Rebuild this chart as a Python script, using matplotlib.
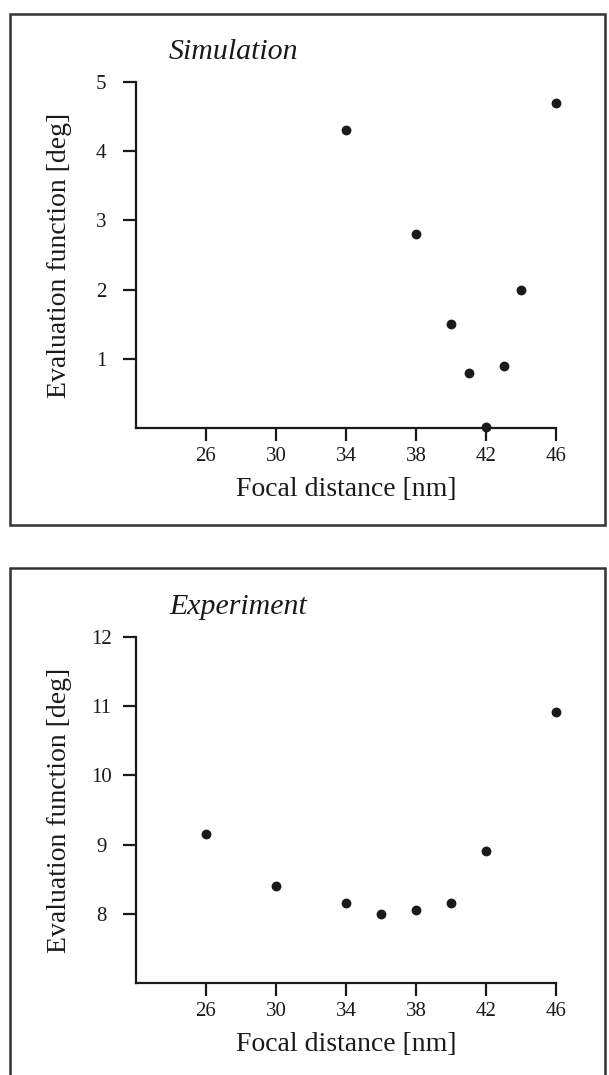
import matplotlib
matplotlib.use("Agg")
import matplotlib.pyplot as plt
from matplotlib.patches import Rectangle

# ---- data ----
sim_focal = [34, 38, 40, 41, 42, 43, 44, 46]
sim_eval = [4.3, 2.8, 1.5, 0.8, 0.02, 0.9, 2.0, 4.7]

exp_focal = [26, 30, 34, 36, 38, 40, 42, 46]
exp_eval = [9.15, 8.40, 8.15, 8.0, 8.05, 8.15, 8.91, 10.91]

x_ticks = [26, 30, 34, 38, 42, 46]
sim_yticks = [1, 2, 3, 4, 5]
exp_yticks = [8, 9, 10, 11, 12]

xlabel = "Focal distance [nm]"
ylabel = "Evaluation function [deg]"

plt.rcParams['font.family'] = ['Liberation Serif', 'DejaVu Serif']

W, H = 609, 1075
fig = plt.figure(figsize=(W / 100, H / 100), dpi=100)
fig.patch.set_facecolor('white')

ink = '#1a1a1a'


def fx(px):
    return px / W


def fy(py):
    return 1 - py / H


def panel(top_px, title, xs, ys, yticks, ylim):
    ax_h = 346
    ax = fig.add_axes([fx(136), fy(top_px + ax_h), (556 - 136) / W, ax_h / H])
    ax.scatter(xs, ys, s=50, color=ink, clip_on=False, zorder=3, linewidths=0)
    ax.set_xlim(22, 46)
    ax.set_ylim(*ylim)
    ax.set_xticks(x_ticks)
    ax.set_yticks(yticks)
    for s in ['top', 'right']:
        ax.spines[s].set_visible(False)
    for s in ['left', 'bottom']:
        ax.spines[s].set_linewidth(1.6)
        ax.spines[s].set_color(ink)
    ax.tick_params(axis='both', direction='out', length=9.5, width=1.6,
                   color=ink, labelsize=15, labelcolor=ink)
    ax.tick_params(axis='y', pad=15.5)
    ax.tick_params(axis='x', pad=4.0)
    for lab in ax.get_yticklabels():
        lab.set_horizontalalignment('center')
    ax.set_xlabel(xlabel, fontsize=20, color=ink)
    ax.xaxis.set_label_coords(0.5, -49 / ax_h)
    ax.set_ylabel(ylabel, fontsize=20, color=ink, va='center')
    ax.yaxis.set_label_coords(-76 / 420, 0.5)
    fig.text(fx(169), fy(top_px - 23), title, fontsize=21.5, style='italic',
             color=ink, va='baseline', ha='left')
    return ax


panel(82, "Simulation", sim_focal, sim_eval, sim_yticks, (0, 5))
panel(637, "Experiment", exp_focal, exp_eval, exp_yticks, (7, 12))

# frames around each panel
for top, bottom in [(14, 525), (568, 1095)]:
    rect = Rectangle((fx(10), fy(bottom)), fx(605) - fx(10), fy(top) - fy(bottom),
                     transform=fig.transFigure, fill=False,
                     edgecolor='#333333', linewidth=1.8)
    fig.patches.append(rect)

fig.savefig("out.png", dpi=100)
